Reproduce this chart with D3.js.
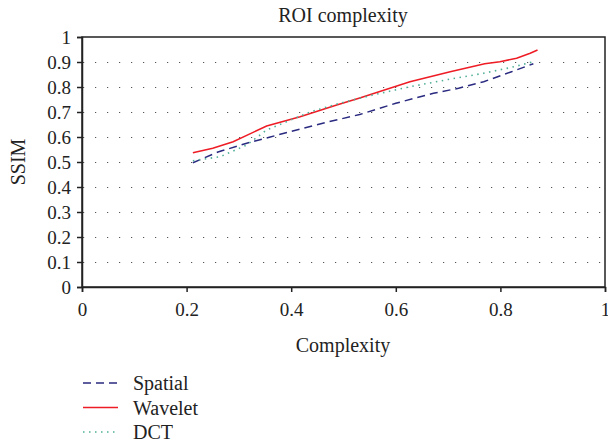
<!DOCTYPE html>
<html>
<head>
<meta charset="utf-8">
<script src="https://cdn.jsdelivr.net/npm/d3@7"></script>
<style>
body { margin: 0; background: #fff; }
text { font-family: "Liberation Serif", "DejaVu Serif", serif; fill: #222; }
</style>
</head>
<body>
<div id="chart"></div>
<script>
// series
var spatialX = [0.212, 0.26, 0.315, 0.36, 0.417, 0.47, 0.531, 0.6, 0.672, 0.72, 0.768, 0.82, 0.863];
var spatialY = [0.497, 0.54, 0.575, 0.6, 0.632, 0.66, 0.69, 0.735, 0.775, 0.795, 0.821, 0.86, 0.893];
var waveletX = [0.212, 0.25, 0.289, 0.353, 0.417, 0.487, 0.531, 0.627, 0.704, 0.77, 0.799, 0.831, 0.857, 0.871];
var waveletY = [0.537, 0.555, 0.581, 0.644, 0.681, 0.728, 0.756, 0.821, 0.861, 0.893, 0.901, 0.915, 0.935, 0.948];
var dctX = [0.212, 0.264, 0.315, 0.353, 0.436, 0.493, 0.56, 0.627, 0.7, 0.768, 0.82, 0.863];
var dctY = [0.505, 0.521, 0.568, 0.628, 0.70, 0.735, 0.77, 0.801, 0.83, 0.855, 0.878, 0.901];
var seriesNames = ["Spatial", "Wavelet", "DCT"];
var xTicks = [0, 0.2, 0.4, 0.6, 0.8, 1];
var yTicks = [0, 0.1, 0.2, 0.3, 0.4, 0.5, 0.6, 0.7, 0.8, 0.9, 1];

var W = 608, H = 446;
var pLeft = 82, pRight = 605, pTop = 37, pBottom = 287;

var svg = d3.select("#chart").append("svg")
    .attr("width", W)
    .attr("height", H);

var x = d3.scaleLinear().domain([0, 1]).range([pLeft, pRight]);
var y = d3.scaleLinear().domain([0, 1]).range([pBottom, pTop]);

// dotted horizontal grid
svg.selectAll("line.grid")
    .data(yTicks.filter(function (d) { return d > 0 && d < 1; }))
    .enter().append("line")
    .attr("class", "grid")
    .attr("x1", pLeft + 1).attr("x2", pRight)
    .attr("y1", function (d) { return Math.round(y(d)) + 0.5; })
    .attr("y2", function (d) { return Math.round(y(d)) + 0.5; })
    .attr("stroke", "#555")
    .attr("stroke-width", 1.2)
    .attr("stroke-dasharray", "1.2,10.8")
    .attr("stroke-dashoffset", -12);

// frame
svg.append("rect")
    .attr("x", pLeft).attr("y", pTop)
    .attr("width", pRight - pLeft).attr("height", pBottom - pTop)
    .attr("fill", "none")
    .attr("stroke", "#222")
    .attr("stroke-width", 1.5);

var fmt = function (d) { return d === 0 || d === 1 ? d : d3.format(".1f")(d); };

// axes
var xAxis = svg.append("g")
    .attr("transform", "translate(0," + pBottom + ")")
    .call(d3.axisBottom(x).tickValues(xTicks).tickSize(5).tickPadding(11).tickFormat(fmt));
var yAxis = svg.append("g")
    .attr("transform", "translate(" + pLeft + ",0)")
    .call(d3.axisLeft(y).tickValues(yTicks).tickSize(5).tickPadding(6).tickFormat(fmt));
[xAxis, yAxis].forEach(function (a) {
    a.select(".domain").attr("stroke", "#222").attr("stroke-width", 1.5);
    a.selectAll(".tick line").attr("stroke", "#222").attr("stroke-width", 1.5);
    a.selectAll("text")
        .style("font-family", "'Liberation Serif', serif")
        .style("font-size", "19px")
        .attr("fill", "#222");
});

// lines
var line = d3.line()
    .x(function (d) { return x(d[0]); })
    .y(function (d) { return y(d[1]); });

var styles = [
    { color: "#2a2a80", dash: "8,5", width: 1.5 },
    { color: "#ee1c25", dash: null, width: 1.5 },
    { color: "#4fae96", dash: "1.5,4.5", width: 1.6 }
];
var series = [
    d3.zip(spatialX, spatialY),
    d3.zip(waveletX, waveletY),
    d3.zip(dctX, dctY)
];

svg.selectAll("path.series")
    .data(series)
    .enter().append("path")
    .attr("class", "series")
    .attr("d", line)
    .attr("fill", "none")
    .attr("stroke", function (d, i) { return styles[i].color; })
    .attr("stroke-width", function (d, i) { return styles[i].width; })
    .attr("stroke-dasharray", function (d, i) { return styles[i].dash; });

// titles
svg.append("text")
    .attr("x", 343).attr("y", 22)
    .attr("text-anchor", "middle")
    .style("font-size", "20px")
    .text("ROI complexity");
svg.append("text")
    .attr("x", 343).attr("y", 352)
    .attr("text-anchor", "middle")
    .style("font-size", "20px")
    .text("Complexity");
svg.append("text")
    .attr("transform", "translate(25," + ((pTop + pBottom) / 2) + ") rotate(-90)")
    .attr("text-anchor", "middle")
    .style("font-size", "20px")
    .text("SSIM");

// legend
var legend = svg.selectAll("g.legend")
    .data(seriesNames)
    .enter().append("g")
    .attr("class", "legend")
    .attr("transform", function (d, i) { return "translate(83," + (383 + i * 24.5) + ")"; });
legend.append("line")
    .attr("x1", 0).attr("x2", 35)
    .attr("stroke", function (d, i) { return styles[i].color; })
    .attr("stroke-width", function (d, i) { return styles[i].width; })
    .attr("stroke-dasharray", function (d, i) { return styles[i].dash; });
legend.append("text")
    .attr("x", 50).attr("y", 7)
    .style("font-size", "20px")
    .text(function (d) { return d; });
</script>
</body>
</html>
